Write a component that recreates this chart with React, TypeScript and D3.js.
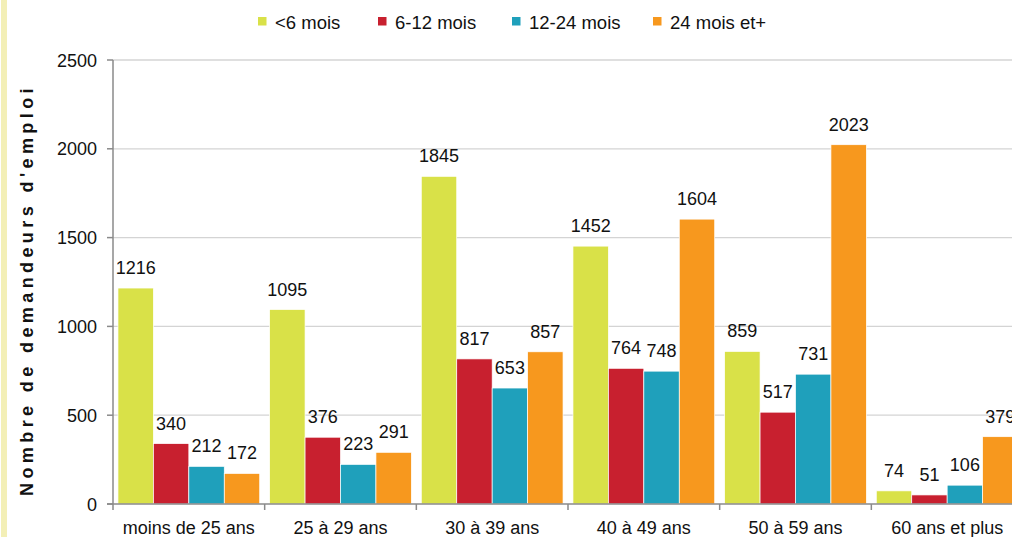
import React from "react";
import * as d3 from "d3";

const categories = ["moins de 25 ans", "25 à 29 ans", "30 à 39 ans", "40 à 49 ans", "50 à 59 ans", "60 ans et plus"];
const seriesNames = ["<6 mois", "6-12 mois", "12-24 mois", "24 mois et+"];
const lessThan6 = [1216, 1095, 1845, 1452, 859, 74];
const from6to12 = [340, 376, 817, 764, 517, 51];
const from12to24 = [212, 223, 653, 748, 731, 106];
const over24 = [172, 291, 857, 1604, 2023, 379];
const yTicks = [0, 500, 1000, 1500, 2000, 2500];
const colors = ["#d9e148", "#c8202f", "#1fa0bb", "#f7981e"];

const seriesValues = [lessThan6, from6to12, from12to24, over24];

export default function App() {
  const W = 1012, H = 537;
  const left = 113, right = 1023, top = 60, bottom = 504;
  const font = "'Liberation Sans', Arial, sans-serif";
  const x = d3.scaleBand<string>().domain(categories).range([left, right]).paddingInner(0).paddingOuter(0);
  const inner = d3.scaleBand<string>().domain(seriesNames).range([0, x.bandwidth()]).paddingOuter(0.14).paddingInner(0);
  const y = d3.scaleLinear().domain([0, 2500]).range([bottom, top]);
  const legendX = [258, 378, 512, 653];

  return (
    <svg width={W} height={H} style={{ position: "absolute", left: 0, top: 0, background: "#fff" }} fontFamily={font}>
      <rect x={1} y={0} width={6} height={H} fill="#f3efb6" />
      {yTicks.filter(t => t > 0).map(t => (
        <line key={"g" + t} x1={left} x2={right} y1={y(t)} y2={y(t)} stroke="#d4d4d4" strokeWidth={1.3} />
      ))}
      {seriesValues.map((vals, si) =>
        categories.map((c, ci) => {
          const bx = (x(c) as number) + (inner(seriesNames[si]) as number);
          const bw = inner.bandwidth();
          return (
            <g key={si + "-" + ci}>
              <rect x={bx} y={y(vals[ci])} width={bw} height={bottom - y(vals[ci])} fill={colors[si]} stroke="#fff" strokeWidth={0.7} />
              <text x={bx + bw / 2} y={y(vals[ci]) - 14} textAnchor="middle" fontSize={18} fill="#111">{vals[ci]}</text>
            </g>
          );
        })
      )}
      <line x1={left} x2={left} y1={top} y2={bottom} stroke="#8a8a8a" strokeWidth={1.5} />
      <line x1={left - 6} x2={right} y1={bottom} y2={bottom} stroke="#8a8a8a" strokeWidth={1.5} />
      {yTicks.map(t => (
        <g key={"t" + t}>
          <line x1={left - 6} x2={left} y1={y(t)} y2={y(t)} stroke="#8a8a8a" strokeWidth={1.5} />
          <text x={97} y={y(t) + 6.5} textAnchor="end" fontSize={18} fill="#111">{t}</text>
        </g>
      ))}
      {categories.map((c, i) => (
        <g key={"c" + i}>
          <line x1={x(c) as number} x2={x(c) as number} y1={bottom} y2={bottom + 6} stroke="#8a8a8a" strokeWidth={1.5} />
          <text x={(x(c) as number) + x.bandwidth() / 2} y={534} textAnchor="middle" fontSize={18} fill="#111">{c}</text>
        </g>
      ))}
      <text transform={`translate(33, 290) rotate(-90)`} textAnchor="middle" fontSize={18} fontWeight="bold" letterSpacing={4.4} fill="#111">Nombre de demandeurs d'emploi</text>
      {seriesNames.map((s, i) => (
        <g key={"l" + i}>
          <rect x={legendX[i]} y={17} width={8.5} height={8.5} fill={colors[i]} />
          <text x={legendX[i] + 17} y={28.5} fontSize={18.5} fill="#111">{s}</text>
        </g>
      ))}
    </svg>
  );
}
